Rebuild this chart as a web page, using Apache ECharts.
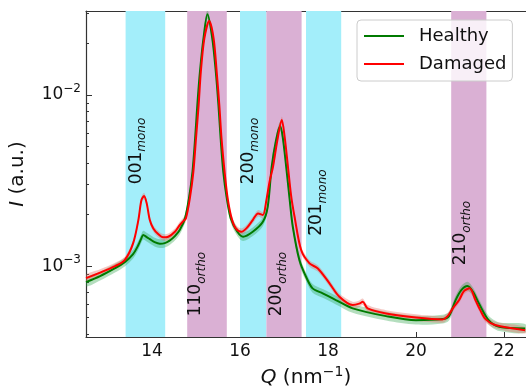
<!DOCTYPE html>
<html>
<head>
<meta charset="utf-8">
<title>I(Q)</title>
<script src="https://cdn.jsdelivr.net/npm/echarts@6.0.0/dist/echarts.min.js"></script>
<style>
  html, body { margin: 0; padding: 0; background: #fff; }
  #main { width: 526px; height: 391px; }
</style>
</head>
<body>
<div id="main"></div>
<script>
// --- data ---
var qHealthy = [12.50,12.82,13.16,13.38,13.57,13.69,13.76,13.80,13.88,13.95,14.06,14.18,14.29,14.40,14.52,14.63,14.75,14.84,14.92,14.98,15.03,15.09,15.17,15.26,15.37,15.45,15.51,15.56,15.62,15.70,15.79,15.94,16.07,16.29,16.52,16.63,16.72,16.82,16.91,16.97,17.05,17.13,17.20,17.35,17.50,17.65,17.88,18.18,18.56,19.32,20.00,20.60,20.75,20.90,21.03,21.17,21.30,21.43,21.65,21.89,22.48];
var iHealthy = [8.06e-4,8.74e-4,9.73e-4,1.055e-3,1.175e-3,1.327e-3,1.458e-3,1.518e-3,1.478e-3,1.438e-3,1.381e-3,1.353e-3,1.363e-3,1.410e-3,1.498e-3,1.624e-3,1.901e-3,2.489e-3,3.559e-3,5.58e-3,8.74e-3,1.369e-2,2.146e-2,2.965e-2,2.146e-2,1.369e-2,8.74e-3,5.58e-3,3.559e-3,2.489e-3,1.901e-3,1.587e-3,1.484e-3,1.587e-3,1.815e-3,2.222e-3,3.806e-3,5.455e-3,6.588e-3,5.703e-3,3.806e-3,2.432e-3,1.698e-3,1.084e-3,8.66e-4,7.41e-4,6.93e-4,6.33e-4,5.66e-4,5.10e-4,4.83e-4,4.90e-4,5.10e-4,6.33e-4,7.24e-4,7.64e-4,7.05e-4,6.05e-4,4.83e-4,4.42e-4,4.32e-4];

var qDamaged = [12.50,12.82,13.16,13.38,13.57,13.69,13.76,13.82,13.88,13.95,14.03,14.14,14.25,14.37,14.52,14.63,14.70,14.77,14.86,14.94,15.00,15.06,15.11,15.19,15.30,15.40,15.47,15.53,15.58,15.65,15.72,15.81,15.90,16.03,16.15,16.29,16.41,16.52,16.60,16.67,16.75,16.85,16.95,17.01,17.09,17.16,17.24,17.39,17.58,17.77,18.03,18.26,18.56,18.71,18.79,18.90,19.32,20.00,20.60,20.72,20.84,20.98,21.09,21.22,21.35,21.46,21.58,21.80,22.48];
var iDamaged = [8.51e-4,9.16e-4,1.000e-3,1.084e-3,1.357e-3,1.858e-3,2.432e-3,2.567e-3,2.326e-3,1.858e-3,1.661e-3,1.539e-3,1.472e-3,1.484e-3,1.587e-3,1.737e-3,1.820e-3,1.901e-3,2.489e-3,3.559e-3,5.58e-3,8.74e-3,1.369e-2,2.146e-2,2.708e-2,2.146e-2,1.369e-2,8.74e-3,5.58e-3,3.559e-3,2.489e-3,1.901e-3,1.668e-3,1.587e-3,1.668e-3,1.858e-3,2.033e-3,1.987e-3,2.432e-3,3.099e-3,3.806e-3,5.455e-3,7.14e-3,5.835e-3,3.806e-3,2.602e-3,1.943e-3,1.241e-3,1.037e-3,9.69e-4,7.96e-4,6.61e-4,5.92e-4,6.03e-4,6.18e-4,5.66e-4,5.29e-4,5.01e-4,4.88e-4,5.10e-4,5.68e-4,6.33e-4,7.14e-4,7.41e-4,6.33e-4,5.53e-4,4.90e-4,4.52e-4,4.22e-4];

// relative spread of the shaded envelopes
var healthySpread = 0.06;
var damagedSpread = 0.045;

// reflection ranges (Q, nm^-1)
var monoRanges = [[13.4, 14.3], [16.0, 16.6], [17.5, 18.3]];
var orthoRanges = [[14.8, 15.7], [16.6, 17.4], [20.8, 21.6]];

// peak annotations
var peakHkl = ['001', '110', '200', '200', '2\u030501', '210'];
var peakPhase = ['mono', 'ortho', 'mono', 'ortho', 'mono', 'ortho'];
var peakQ = [13.64, 15.00, 16.20, 16.84, 17.75, 21.02];
var peakI = [4.71e-3, 7.85e-4, 4.71e-3, 7.85e-4, 2.35e-3, 1.56e-3];

var xTicks = [14, 16, 18, 20, 22];
var yMajor = [1e-3, 1e-2];
var yMinor = [4e-4,5e-4,6e-4,7e-4,8e-4,9e-4,2e-3,3e-3,4e-3,5e-3,6e-3,7e-3,8e-3,9e-3,2e-2,3e-2];

var yMin = 3.85e-4, yMax = 3.1e-2;
var FONT = 'DejaVu Sans';

function pairs(q, v) {
    return q.map(function (x, i) { return [x, v[i]]; });
}

// envelope drawn as one polygon through the axis scales
function bandSeries(name, q, v, s, color) {
    return {
        name: name, type: 'custom', z: 2, silent: true, clip: true,
        data: [[q[0], v[0]]],
        renderItem: function (params, api) {
            var pts = [];
            for (var i = 0; i < q.length; i++) pts.push(api.coord([q[i], v[i] * (1 + s)]));
            for (var j = q.length - 1; j >= 0; j--) pts.push(api.coord([q[j], v[j] / (1 + s)]));
            return {
                type: 'polygon',
                shape: { points: pts, smooth: 0.3 },
                style: { fill: color }
            };
        }
    };
}

var spans = [];
monoRanges.forEach(function (r) {
    spans.push([{ xAxis: r[0], itemStyle: { color: '#a3eefa' } }, { xAxis: r[1] }]);
});
orthoRanges.forEach(function (r) {
    spans.push([{ xAxis: r[0], itemStyle: { color: '#dab0d4' } }, { xAxis: r[1] }]);
});

var peakLabels = peakHkl.map(function (h, i) {
    return { coord: [peakQ[i], peakI[i]], value: '{n|' + h + '}{s|' + peakPhase[i] + '}' };
});

var myChart = echarts.init(document.getElementById('main'), null, { renderer: 'canvas' });
var tickColor = '#333';

var option = {
    animation: false,
    backgroundColor: '#fff',
    textStyle: { fontFamily: FONT },
    grid: { left: 86, right: 0, top: 11, bottom: 54, outerBoundsMode: 'none' },
    legend: {
        data: ['Healthy', 'Damaged'],
        orient: 'vertical',
        left: 357, top: 20,
        icon: 'rect',
        itemWidth: 40, itemHeight: 2, itemGap: 10,
        padding: [7, 6, 8, 7],
        backgroundColor: 'rgba(255,255,255,0.8)',
        borderColor: '#cccccc', borderWidth: 1, borderRadius: 4,
        textStyle: { fontFamily: FONT, fontSize: 18, color: '#111', lineHeight: 18, padding: [0, 0, 0, 10] }
    },
    xAxis: [{
        type: 'value', min: 12.5, max: 22.5,
        axisLine: { lineStyle: { color: tickColor, width: 1.2 } },
        axisTick: { inside: true, length: 5, customValues: xTicks, lineStyle: { color: tickColor } },
        axisLabel: { customValues: xTicks, fontSize: 17, color: '#111', margin: 6, fontFamily: FONT },
        splitLine: { show: false },
        name: '{i|Q} (nm{s|\u22121})',
        nameLocation: 'middle', nameGap: 28,
        nameTextStyle: {
            fontFamily: FONT, fontSize: 20, color: '#111', lineHeight: 26,
            rich: {
                i: { fontFamily: FONT, fontSize: 20, fontStyle: 'italic', lineHeight: 26 },
                s: { fontFamily: FONT, fontSize: 14, lineHeight: 14, verticalAlign: 'top' }
            }
        }
    }, {
        type: 'value', min: 12.5, max: 22.5, position: 'top',
        axisLine: { lineStyle: { color: tickColor, width: 1.2 } },
        axisTick: { show: false }, axisLabel: { show: false }, splitLine: { show: false }
    }],
    yAxis: [{
        type: 'log', logBase: 10, min: yMin, max: yMax,
        axisLine: { show: true, lineStyle: { color: tickColor, width: 1.2 } },
        axisTick: { inside: true, length: 6, customValues: yMajor, lineStyle: { color: tickColor } },
        axisLabel: {
            customValues: yMajor, margin: 5, color: '#111',
            formatter: function (v) {
                var e = Math.round(Math.log10(v));
                return '{b|10}{s|\u2212' + Math.abs(e) + '}';
            },
            rich: {
                b: { fontFamily: FONT, fontSize: 17, lineHeight: 24, color: '#111' },
                s: { fontFamily: FONT, fontSize: 12, lineHeight: 12, verticalAlign: 'top', color: '#111' }
            }
        },
        splitLine: { show: false },
        name: '{i|I} (a.u.)',
        nameLocation: 'middle', nameGap: 48, nameRotate: 90,
        nameTextStyle: {
            fontFamily: FONT, fontSize: 20, color: '#111', lineHeight: 26,
            rich: { i: { fontFamily: FONT, fontSize: 20, fontStyle: 'italic', lineHeight: 26 } }
        }
    }, {
        type: 'log', logBase: 10, min: yMin, max: yMax, position: 'left',
        axisLine: { show: false },
        axisTick: { inside: true, length: 3, customValues: yMinor, lineStyle: { color: tickColor } },
        axisLabel: { show: false },
        splitLine: { show: false }
    }],
    series: [
        {
            // shaded Bragg ranges
            name: 'ranges', type: 'line', data: [], z: 1,
            markArea: { silent: true, data: spans }
        },
        bandSeries('hBand', qHealthy, iHealthy, healthySpread, 'rgba(40,160,70,0.35)'),
        bandSeries('dBand', qDamaged, iDamaged, damagedSpread, 'rgba(225,110,100,0.38)'),
        {
            name: 'Healthy', type: 'line', data: pairs(qHealthy, iHealthy),
            symbol: 'none', smooth: 0.3, color: '#007a00',
            lineStyle: { color: '#007a00', width: 2 }, z: 3
        },
        {
            name: 'Damaged', type: 'line', data: pairs(qDamaged, iDamaged),
            symbol: 'none', smooth: 0.3, color: '#ff0000',
            lineStyle: { color: '#ff0000', width: 2 }, z: 4
        },
        {
            // peak labels
            name: 'labels', type: 'line', data: [], z: 5,
            markPoint: {
                silent: true, symbol: 'circle', symbolSize: 0,
                data: peakLabels,
                label: {
                    show: true, position: 'inside', rotate: 90, color: '#111',
                    formatter: function (p) { return p.value; },
                    rich: {
                        n: { fontFamily: FONT, fontSize: 17, lineHeight: 24, color: '#111' },
                        s: { fontFamily: FONT, fontSize: 12, fontStyle: 'italic', lineHeight: 12, verticalAlign: 'bottom', color: '#111' }
                    }
                }
            }
        }
    ]
};

myChart.setOption(option);
</script>
</body>
</html>
